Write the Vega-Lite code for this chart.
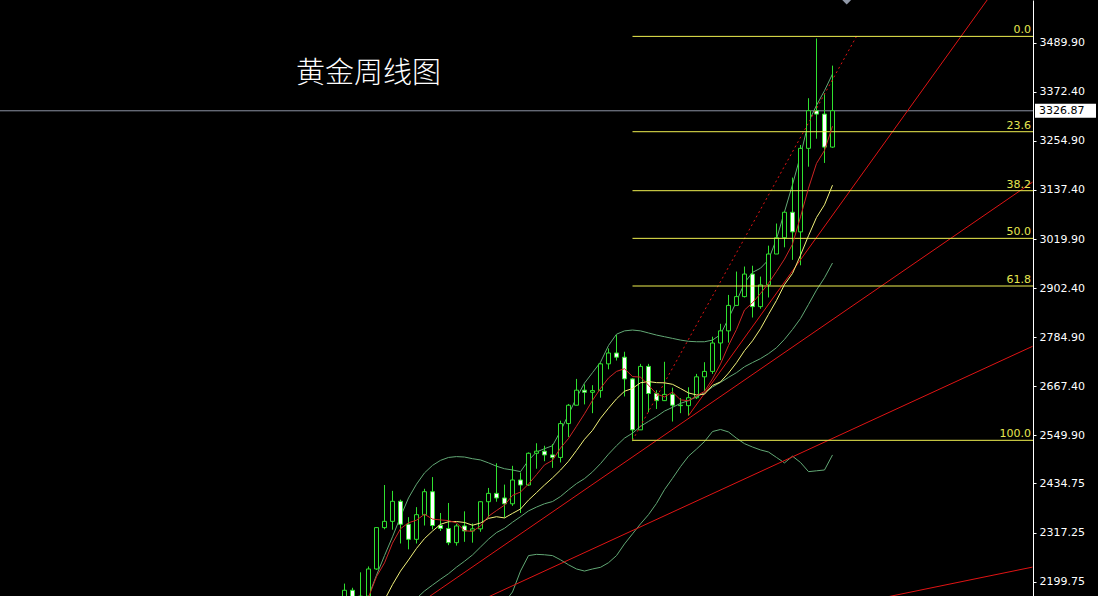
{
"$schema": "https://vega.github.io/schema/vega-lite/v6.json",
"width": 1033, "height": 596,
"autosize": {"type": "none"},
"padding": {"left": 0, "top": 0, "right": 65, "bottom": 0},
"background": "#000000",
"config": {
 "view": {"stroke": null},
 "axisY": {"grid": false, "domainColor": "#ffffff", "domainWidth": 1, "tickColor": "#ffffff", "tickSize": 3,
  "labelColor": "#ffffff", "labelFont": "DejaVu Sans", "labelFontSize": 11, "labelPadding": 3, "labelOverlap": false, "labelFlush": false}
},
"datasets": {
"candles": [
{"d":"2023-10-02","o":1848,"h":1858,"l":1810,"c":1833},
{"d":"2023-10-09","o":1833,"h":1933,"l":1820,"c":1932},
{"d":"2023-10-16","o":1932,"h":1997,"l":1908,"c":1981},
{"d":"2023-10-23","o":1981,"h":2009,"l":1953,"c":2006},
{"d":"2023-10-30","o":2006,"h":2010,"l":1953,"c":1992},
{"d":"2023-11-06","o":1992,"h":1993,"l":1932,"c":1940},
{"d":"2023-11-13","o":1940,"h":1993,"l":1931,"c":1981},
{"d":"2023-11-20","o":1981,"h":2007,"l":1965,"c":2001},
{"d":"2023-11-27","o":2001,"h":2075,"l":1993,"c":2072},
{"d":"2023-12-04","o":2072,"h":2146,"l":1994,"c":2005},
{"d":"2023-12-11","o":2005,"h":2047,"l":1973,"c":2019},
{"d":"2023-12-18","o":2019,"h":2071,"l":2016,"c":2053},
{"d":"2023-12-25","o":2053,"h":2088,"l":2053,"c":2062},
{"d":"2024-01-01","o":2062,"h":2079,"l":2016,"c":2049},
{"d":"2024-01-08","o":2049,"h":2062,"l":2013,"c":2049},
{"d":"2024-01-15","o":2049,"h":2061,"l":2002,"c":2029},
{"d":"2024-01-22","o":2029,"h":2041,"l":2010,"c":2018},
{"d":"2024-01-29","o":2018,"h":2065,"l":2016,"c":2039},
{"d":"2024-02-05","o":2039,"h":2051,"l":2015,"c":2024},
{"d":"2024-02-12","o":2024,"h":2031,"l":1984,"c":2013},
{"d":"2024-02-19","o":2013,"h":2041,"l":2011,"c":2035},
{"d":"2024-02-26","o":2035,"h":2088,"l":2024,"c":2083},
{"d":"2024-03-04","o":2083,"h":2195,"l":2076,"c":2179},
{"d":"2024-03-11","o":2179,"h":2185,"l":2146,"c":2155},
{"d":"2024-03-18","o":2155,"h":2222,"l":2146,"c":2165},
{"d":"2024-03-25","o":2165,"h":2236,"l":2163,"c":2230},
{"d":"2024-04-01","o":2230,"h":2330,"l":2228,"c":2329},
{"d":"2024-04-08","o":2329,"h":2431,"l":2325,"c":2344},
{"d":"2024-04-15","o":2344,"h":2417,"l":2324,"c":2392},
{"d":"2024-04-22","o":2392,"h":2396,"l":2291,"c":2337},
{"d":"2024-04-29","o":2337,"h":2354,"l":2277,"c":2301},
{"d":"2024-05-06","o":2301,"h":2378,"l":2291,"c":2360},
{"d":"2024-05-13","o":2360,"h":2422,"l":2334,"c":2415},
{"d":"2024-05-20","o":2415,"h":2450,"l":2325,"c":2334},
{"d":"2024-05-27","o":2334,"h":2364,"l":2321,"c":2327},
{"d":"2024-06-03","o":2327,"h":2388,"l":2287,"c":2293},
{"d":"2024-06-10","o":2293,"h":2338,"l":2286,"c":2333},
{"d":"2024-06-17","o":2333,"h":2368,"l":2295,"c":2321},
{"d":"2024-06-24","o":2321,"h":2339,"l":2293,"c":2326},
{"d":"2024-07-01","o":2326,"h":2392,"l":2319,"c":2391},
{"d":"2024-07-08","o":2391,"h":2424,"l":2353,"c":2411},
{"d":"2024-07-15","o":2411,"h":2483,"l":2391,"c":2400},
{"d":"2024-07-22","o":2400,"h":2432,"l":2353,"c":2386},
{"d":"2024-07-29","o":2386,"h":2477,"l":2381,"c":2443},
{"d":"2024-08-05","o":2443,"h":2461,"l":2364,"c":2431},
{"d":"2024-08-12","o":2431,"h":2509,"l":2429,"c":2507},
{"d":"2024-08-19","o":2507,"h":2531,"l":2470,"c":2512},
{"d":"2024-08-26","o":2512,"h":2525,"l":2488,"c":2503},
{"d":"2024-09-02","o":2503,"h":2529,"l":2472,"c":2497},
{"d":"2024-09-09","o":2497,"h":2585,"l":2485,"c":2578},
{"d":"2024-09-16","o":2578,"h":2625,"l":2546,"c":2622},
{"d":"2024-09-23","o":2622,"h":2685,"l":2622,"c":2658},
{"d":"2024-09-30","o":2658,"h":2672,"l":2624,"c":2653},
{"d":"2024-10-07","o":2653,"h":2670,"l":2603,"c":2657},
{"d":"2024-10-14","o":2657,"h":2724,"l":2640,"c":2721},
{"d":"2024-10-21","o":2721,"h":2758,"l":2708,"c":2747},
{"d":"2024-10-28","o":2747,"h":2790,"l":2729,"c":2737},
{"d":"2024-11-04","o":2737,"h":2750,"l":2643,"c":2685},
{"d":"2024-11-11","o":2685,"h":2687,"l":2536,"c":2563},
{"d":"2024-11-18","o":2563,"h":2721,"l":2564,"c":2715},
{"d":"2024-11-25","o":2715,"h":2721,"l":2605,"c":2650},
{"d":"2024-12-02","o":2650,"h":2658,"l":2613,"c":2633},
{"d":"2024-12-09","o":2633,"h":2726,"l":2632,"c":2648},
{"d":"2024-12-16","o":2648,"h":2664,"l":2583,"c":2622},
{"d":"2024-12-23","o":2622,"h":2639,"l":2603,"c":2621},
{"d":"2024-12-30","o":2621,"h":2665,"l":2597,"c":2640},
{"d":"2025-01-06","o":2640,"h":2697,"l":2637,"c":2690},
{"d":"2025-01-13","o":2690,"h":2725,"l":2656,"c":2703},
{"d":"2025-01-20","o":2703,"h":2786,"l":2697,"c":2771},
{"d":"2025-01-27","o":2771,"h":2817,"l":2730,"c":2800},
{"d":"2025-02-03","o":2800,"h":2886,"l":2772,"c":2861},
{"d":"2025-02-10","o":2861,"h":2942,"l":2864,"c":2882},
{"d":"2025-02-17","o":2882,"h":2954,"l":2880,"c":2936},
{"d":"2025-02-24","o":2936,"h":2956,"l":2832,"c":2858},
{"d":"2025-03-03","o":2858,"h":2930,"l":2853,"c":2910},
{"d":"2025-03-10","o":2910,"h":3004,"l":2880,"c":2984},
{"d":"2025-03-17","o":2984,"h":3057,"l":2999,"c":3023},
{"d":"2025-03-24","o":3023,"h":3086,"l":3000,"c":3084},
{"d":"2025-03-31","o":3084,"h":3167,"l":2970,"c":3037},
{"d":"2025-04-07","o":3037,"h":3245,"l":2957,"c":3237},
{"d":"2025-04-14","o":3237,"h":3357,"l":3193,"c":3327},
{"d":"2025-04-21","o":3327,"h":3500,"l":3260,"c":3319},
{"d":"2025-04-28","o":3319,"h":3368,"l":3202,"c":3240},
{"d":"2025-05-05","o":3240,"h":3435,"l":3238,"c":3327}
],
"upper": [
{"d":"2024-03-18","v":2120},{"d":"2024-03-25","v":2165},{"d":"2024-04-01","v":2215},{"d":"2024-04-08","v":2262},
{"d":"2024-04-15","v":2307},{"d":"2024-04-22","v":2355},{"d":"2024-04-29","v":2400},{"d":"2024-05-06","v":2433},
{"d":"2024-05-13","v":2460},{"d":"2024-05-20","v":2478},{"d":"2024-05-27","v":2490},{"d":"2024-06-03","v":2497},
{"d":"2024-06-10","v":2499},{"d":"2024-06-17","v":2498},{"d":"2024-06-24","v":2494},{"d":"2024-07-01","v":2491},
{"d":"2024-07-08","v":2484},{"d":"2024-07-15","v":2476},{"d":"2024-07-22","v":2470},{"d":"2024-07-29","v":2467},
{"d":"2024-08-05","v":2463},{"d":"2024-08-12","v":2490},{"d":"2024-08-19","v":2510},{"d":"2024-08-26","v":2518},
{"d":"2024-09-02","v":2525},{"d":"2024-09-09","v":2560},{"d":"2024-09-16","v":2600},{"d":"2024-09-23","v":2640},
{"d":"2024-09-30","v":2675},{"d":"2024-10-07","v":2700},{"d":"2024-10-14","v":2725},{"d":"2024-10-21","v":2765},
{"d":"2024-10-28","v":2792},{"d":"2024-11-04","v":2800},{"d":"2024-11-11","v":2802},{"d":"2024-11-18","v":2800},
{"d":"2024-11-25","v":2795},{"d":"2024-12-02","v":2790},{"d":"2024-12-09","v":2786},{"d":"2024-12-16","v":2782},
{"d":"2024-12-23","v":2778},{"d":"2024-12-30","v":2775},{"d":"2025-01-06","v":2774},{"d":"2025-01-13","v":2774},
{"d":"2025-01-20","v":2778},{"d":"2025-01-27","v":2791},{"d":"2025-02-03","v":2830},{"d":"2025-02-10","v":2870},
{"d":"2025-02-17","v":2915},{"d":"2025-02-24","v":2940},{"d":"2025-03-03","v":2950},{"d":"2025-03-10","v":2970},
{"d":"2025-03-17","v":3020},{"d":"2025-03-24","v":3085},{"d":"2025-03-31","v":3150},{"d":"2025-04-07","v":3220},
{"d":"2025-04-14","v":3300},{"d":"2025-04-21","v":3340},{"d":"2025-04-28","v":3375},{"d":"2025-05-05","v":3415}
],
"lower": [
{"d":"2024-07-22","v":2150},{"d":"2024-07-29","v":2175},{"d":"2024-08-05","v":2225},{"d":"2024-08-12","v":2262},
{"d":"2024-08-19","v":2265},{"d":"2024-08-26","v":2264},{"d":"2024-09-02","v":2262},{"d":"2024-09-09","v":2252},
{"d":"2024-09-16","v":2240},{"d":"2024-09-23","v":2230},{"d":"2024-09-30","v":2225},{"d":"2024-10-07","v":2230},
{"d":"2024-10-14","v":2234},{"d":"2024-10-21","v":2245},{"d":"2024-10-28","v":2262},{"d":"2024-11-04","v":2290},
{"d":"2024-11-11","v":2314},{"d":"2024-11-18","v":2338},{"d":"2024-11-25","v":2360},{"d":"2024-12-02","v":2387},
{"d":"2024-12-09","v":2420},{"d":"2024-12-16","v":2447},{"d":"2024-12-23","v":2475},{"d":"2024-12-30","v":2500},
{"d":"2025-01-06","v":2517},{"d":"2025-01-13","v":2535},{"d":"2025-01-20","v":2559},{"d":"2025-01-27","v":2564},
{"d":"2025-02-03","v":2558},{"d":"2025-02-10","v":2543},{"d":"2025-02-17","v":2530},{"d":"2025-02-24","v":2522},
{"d":"2025-03-03","v":2515},{"d":"2025-03-10","v":2510},{"d":"2025-03-17","v":2497},{"d":"2025-03-24","v":2484},
{"d":"2025-03-31","v":2500},{"d":"2025-04-07","v":2485},{"d":"2025-04-14","v":2463},{"d":"2025-04-21","v":2465},
{"d":"2025-04-28","v":2467},{"d":"2025-05-05","v":2503}
],
"trend": [
{"id":"A","d":"2024-12-30","p":2597},{"id":"A","d":"2025-09-22","p":3610},
{"id":"B","d":"2024-05-13","p":2156},{"id":"B","d":"2025-10-27","p":3156},
{"id":"C","d":"2024-07-01","p":2154.5},{"id":"C","d":"2025-10-27","p":2763},
{"id":"D","d":"2025-06-23","p":2163.8},{"id":"D","d":"2025-10-27","p":2234.5}
],
"fibdiag": [
{"d":"2024-11-11","p":2538},{"d":"2025-05-26","p":3505}
],
"fib": [
{"lvl":"0.0","p":3505},{"lvl":"23.6","p":3276.8},{"lvl":"38.2","p":3135.6},
{"lvl":"50.0","p":3021.5},{"lvl":"61.8","p":2907.4},{"lvl":"100.0","p":2538}
],
"price": [{"p":3326.87,"t":"3326.87"}],
"title": [{"t":"黄金周线图","d":"2024-03-25","p":3415}]
},
"layer": [
{"data":{"name":"price"},
 "mark":{"type":"rule","color":"#8c93a3","strokeWidth":1},
 "encoding":{
  "y":{"field":"p","type":"quantitative","title":null,"scale":{"domain":[2165.3,3592.1],"nice":false,"zero":false,"padding":0},
   "axis":{"orient":"right","title":null,"values":[3489.9,3372.4,3254.9,3137.4,3019.9,2902.4,2784.9,2667.4,2549.9,2434.75,2317.25,2199.75],"format":".2f","zindex":0}}}},
{"data":{"name":"upper"},
 "mark":{"type":"line","color":"#62a875","strokeWidth":1,"clip":true},
 "encoding":{
  "x":{"field":"d","type":"temporal","axis":null,"scale":{"domain":[{"year":2023,"month":5,"date":7,"hours":13,"minutes":30,"utc":true},{"year":2025,"month":10,"date":27,"hours":10,"minutes":30,"utc":true}],"nice":false,"padding":0}},
  "y":{"field":"v","type":"quantitative","title":null,"scale":{"domain":[2165.3,3592.1],"nice":false,"zero":false,"padding":0}}}},
{"data":{"name":"candles"},
 "mark":{"type":"rule","color":"#2fe12f","strokeWidth":1,"clip":true},
 "encoding":{
  "x":{"field":"d","type":"temporal","axis":null,"scale":{"domain":[{"year":2023,"month":5,"date":7,"hours":13,"minutes":30,"utc":true},{"year":2025,"month":10,"date":27,"hours":10,"minutes":30,"utc":true}],"nice":false,"padding":0}},
  "y":{"field":"l","type":"quantitative","title":null,"scale":{"domain":[2165.3,3592.1],"nice":false,"zero":false,"padding":0}},
  "y2":{"field":"h"}}},
{"data":{"name":"candles"},
 "mark":{"type":"bar","size":4,"stroke":"#2fe12f","strokeWidth":1,"clip":true},
 "encoding":{
  "x":{"field":"d","type":"temporal","axis":null,"scale":{"domain":[{"year":2023,"month":5,"date":7,"hours":13,"minutes":30,"utc":true},{"year":2025,"month":10,"date":27,"hours":10,"minutes":30,"utc":true}],"nice":false,"padding":0}},
  "y":{"field":"o","type":"quantitative","title":null,"scale":{"domain":[2165.3,3592.1],"nice":false,"zero":false,"padding":0}},
  "y2":{"field":"c"},
  "fill":{"condition":{"test":"datum.c < datum.o","value":"#ffffff"},"value":"#000000"}}},
{"data":{"name":"lower"},
 "mark":{"type":"line","color":"#62a875","strokeWidth":1,"clip":true},
 "encoding":{
  "x":{"field":"d","type":"temporal","axis":null,"scale":{"domain":[{"year":2023,"month":5,"date":7,"hours":13,"minutes":30,"utc":true},{"year":2025,"month":10,"date":27,"hours":10,"minutes":30,"utc":true}],"nice":false,"padding":0}},
  "y":{"field":"v","type":"quantitative","title":null,"scale":{"domain":[2165.3,3592.1],"nice":false,"zero":false,"padding":0}}}},
{"data":{"name":"candles"},
 "transform":[{"window":[{"op":"mean","field":"c","as":"m20"}],"frame":[-19,0],"sort":[{"field":"d"}]}],
 "mark":{"type":"line","color":"#62a875","strokeWidth":1,"clip":true},
 "encoding":{
  "x":{"field":"d","type":"temporal","axis":null,"scale":{"domain":[{"year":2023,"month":5,"date":7,"hours":13,"minutes":30,"utc":true},{"year":2025,"month":10,"date":27,"hours":10,"minutes":30,"utc":true}],"nice":false,"padding":0}},
  "y":{"field":"m20","type":"quantitative","title":null,"scale":{"domain":[2165.3,3592.1],"nice":false,"zero":false,"padding":0}}}},
{"data":{"name":"trend"},
 "mark":{"type":"line","color":"#e01414","strokeWidth":1,"clip":true},
 "encoding":{
  "x":{"field":"d","type":"temporal","axis":null,"scale":{"domain":[{"year":2023,"month":5,"date":7,"hours":13,"minutes":30,"utc":true},{"year":2025,"month":10,"date":27,"hours":10,"minutes":30,"utc":true}],"nice":false,"padding":0}},
  "y":{"field":"p","type":"quantitative","title":null,"scale":{"domain":[2165.3,3592.1],"nice":false,"zero":false,"padding":0}},
  "detail":{"field":"id"}}},
{"data":{"name":"fibdiag"},
 "mark":{"type":"line","color":"#e01414","strokeWidth":1,"strokeDash":[2,3],"clip":true},
 "encoding":{
  "x":{"field":"d","type":"temporal","axis":null,"scale":{"domain":[{"year":2023,"month":5,"date":7,"hours":13,"minutes":30,"utc":true},{"year":2025,"month":10,"date":27,"hours":10,"minutes":30,"utc":true}],"nice":false,"padding":0}},
  "y":{"field":"p","type":"quantitative","title":null,"scale":{"domain":[2165.3,3592.1],"nice":false,"zero":false,"padding":0}}}},
{"data":{"name":"fib"},
 "mark":{"type":"rule","color":"#f0f050","strokeWidth":1,"clip":true},
 "encoding":{
  "x":{"datum":{"year":2024,"month":11,"date":11,"utc":true},"type":"temporal","axis":null,"scale":{"domain":[{"year":2023,"month":5,"date":7,"hours":13,"minutes":30,"utc":true},{"year":2025,"month":10,"date":27,"hours":10,"minutes":30,"utc":true}],"nice":false,"padding":0}},
  "x2":{"datum":{"year":2025,"month":10,"date":27,"hours":10,"minutes":30,"utc":true}},
  "y":{"field":"p","type":"quantitative","title":null,"scale":{"domain":[2165.3,3592.1],"nice":false,"zero":false,"padding":0}}}},
{"data":{"name":"fib"},
 "mark":{"type":"text","color":"#e6e650","font":"DejaVu Sans","fontSize":11,"align":"right","baseline":"bottom","dx":-2,"dy":-1},
 "encoding":{
  "x":{"datum":{"year":2025,"month":10,"date":27,"hours":10,"minutes":30,"utc":true},"type":"temporal","axis":null,"scale":{"domain":[{"year":2023,"month":5,"date":7,"hours":13,"minutes":30,"utc":true},{"year":2025,"month":10,"date":27,"hours":10,"minutes":30,"utc":true}],"nice":false,"padding":0}},
  "y":{"field":"p","type":"quantitative","title":null,"scale":{"domain":[2165.3,3592.1],"nice":false,"zero":false,"padding":0}},
  "text":{"field":"lvl"}}},
{"data":{"name":"candles"},
 "transform":[{"window":[{"op":"mean","field":"c","as":"m10"}],"frame":[-9,0],"sort":[{"field":"d"}]}],
 "mark":{"type":"line","color":"#f2f27a","strokeWidth":1,"clip":true},
 "encoding":{
  "x":{"field":"d","type":"temporal","axis":null,"scale":{"domain":[{"year":2023,"month":5,"date":7,"hours":13,"minutes":30,"utc":true},{"year":2025,"month":10,"date":27,"hours":10,"minutes":30,"utc":true}],"nice":false,"padding":0}},
  "y":{"field":"m10","type":"quantitative","title":null,"scale":{"domain":[2165.3,3592.1],"nice":false,"zero":false,"padding":0}}}},
{"data":{"name":"candles"},
 "transform":[{"window":[{"op":"mean","field":"c","as":"m5"}],"frame":[-4,0],"sort":[{"field":"d"}]}],
 "mark":{"type":"line","color":"#cc2424","strokeWidth":1,"clip":true},
 "encoding":{
  "x":{"field":"d","type":"temporal","axis":null,"scale":{"domain":[{"year":2023,"month":5,"date":7,"hours":13,"minutes":30,"utc":true},{"year":2025,"month":10,"date":27,"hours":10,"minutes":30,"utc":true}],"nice":false,"padding":0}},
  "y":{"field":"m5","type":"quantitative","title":null,"scale":{"domain":[2165.3,3592.1],"nice":false,"zero":false,"padding":0}}}},
{"data":{"name":"title"},
 "mark":{"type":"text","color":"#ffffff","font":"Noto Sans CJK SC","fontSize":29,"fontWeight":300,"align":"center","baseline":"middle"},
 "encoding":{
  "x":{"field":"d","type":"temporal","axis":null,"scale":{"domain":[{"year":2023,"month":5,"date":7,"hours":13,"minutes":30,"utc":true},{"year":2025,"month":10,"date":27,"hours":10,"minutes":30,"utc":true}],"nice":false,"padding":0}},
  "y":{"field":"p","type":"quantitative","title":null,"scale":{"domain":[2165.3,3592.1],"nice":false,"zero":false,"padding":0}},
  "text":{"field":"t"}}},
{"data":{"name":"price"},
 "mark":{"type":"rule","color":"#ffffff","strokeWidth":14,"clip":false},
 "encoding":{
  "x":{"datum":{"year":2025,"month":10,"date":29,"hours":4,"minutes":30,"utc":true},"type":"temporal","axis":null,"scale":{"domain":[{"year":2023,"month":5,"date":7,"hours":13,"minutes":30,"utc":true},{"year":2025,"month":10,"date":27,"hours":10,"minutes":30,"utc":true}],"nice":false,"padding":0}},
  "x2":{"datum":{"year":2025,"month":12,"date":21,"hours":13,"minutes":30,"utc":true}},
  "y":{"field":"p","type":"quantitative","title":null,"scale":{"domain":[2165.3,3592.1],"nice":false,"zero":false,"padding":0}}}},
{"data":{"name":"price"},
 "mark":{"type":"text","color":"#000000","font":"DejaVu Sans","fontSize":11,"align":"left","baseline":"middle","dx":4},
 "encoding":{
  "x":{"datum":{"year":2025,"month":10,"date":29,"hours":4,"minutes":30,"utc":true},"type":"temporal","axis":null,"scale":{"domain":[{"year":2023,"month":5,"date":7,"hours":13,"minutes":30,"utc":true},{"year":2025,"month":10,"date":27,"hours":10,"minutes":30,"utc":true}],"nice":false,"padding":0}},
  "y":{"field":"p","type":"quantitative","title":null,"scale":{"domain":[2165.3,3592.1],"nice":false,"zero":false,"padding":0}},
  "text":{"field":"t"}}},
{"data":{"name":"price"},
 "mark":{"type":"point","shape":"diamond","filled":true,"size":110,"opacity":1,"color":"#9098a8","clip":true},
 "encoding":{
  "x":{"datum":{"year":2025,"month":5,"date":17,"hours":10,"utc":true},"type":"temporal","axis":null,"scale":{"domain":[{"year":2023,"month":5,"date":7,"hours":13,"minutes":30,"utc":true},{"year":2025,"month":10,"date":27,"hours":10,"minutes":30,"utc":true}],"nice":false,"padding":0}},
  "y":{"datum":3594,"type":"quantitative","title":null,"scale":{"domain":[2165.3,3592.1],"nice":false,"zero":false,"padding":0}}}}
]
}
